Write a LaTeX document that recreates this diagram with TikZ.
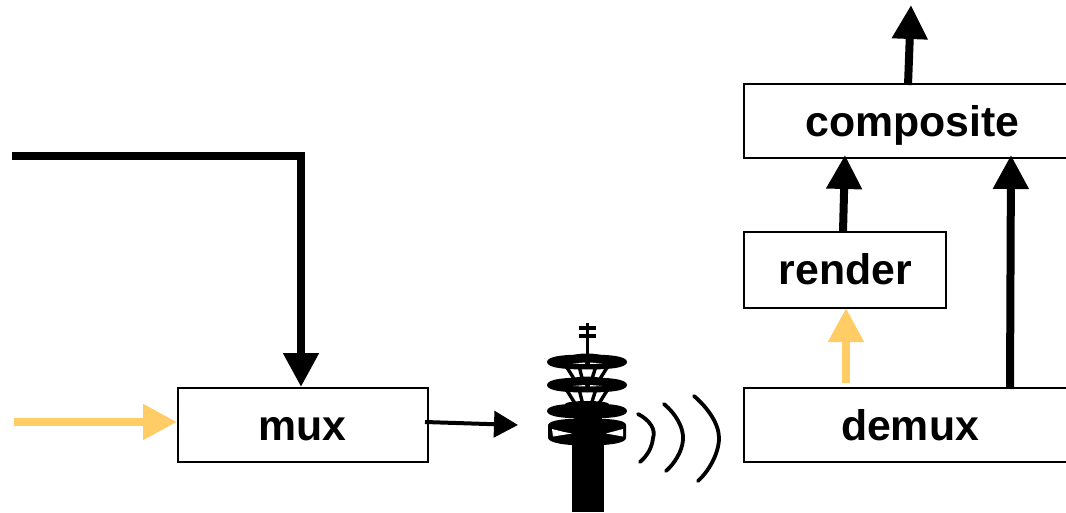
\documentclass[tikz,border=0pt]{standalone}
\usepackage{fontspec}
\setmainfont{Liberation Sans}
\usetikzlibrary{arrows.meta}
\definecolor{sig}{RGB}{255,204,102}
\tikzset{
  blockbox/.style={draw=black,line width=2pt,fill=white,rectangle,inner sep=0pt,text height=31pt,text depth=0pt,font=\fontsize{42.8pt}{46pt}\selectfont\bfseries,text=black},
  flow/.style={line width=8pt,-{Triangle[width=34pt,length=34pt]}},
  thinflow/.style={line width=4pt,-{Triangle[width=26pt,length=24pt]}},
  wave/.style={line width=3.8pt,line cap=round},
  towerline/.style={line width=3.4pt},
}
\newcommand{\towerdisc}[1]{\fill (547,#1) .. controls (547,#1-6) and (565,#1-7.5) .. (587,#1-7.5) .. controls (609,#1-7.5) and (627,#1-6) .. (627,#1) .. controls (627,#1+6) and (609,#1+7.5) .. (587,#1+7.5) .. controls (565,#1+7.5) and (547,#1+6) .. (547,#1) -- cycle;}
\begin{document}
\begin{tikzpicture}[x=1pt,y=-1pt]
\useasboundingbox (0,0) rectangle (1066,513);
\node[blockbox,minimum width=250pt,minimum height=74pt] (mux) at (303,425) {\hspace*{-2pt}mux};
\node[blockbox,minimum width=336pt,minimum height=74pt] (demux) at (912,425) {\hspace*{-4pt}demux};
\node[blockbox,text height=29pt,minimum width=202pt,minimum height=76pt] (render) at (845,270) {\hspace*{1pt}render};
\node[blockbox,minimum width=336pt,minimum height=74pt] (composite) at (912,121) {\hspace*{1pt}composite};
\coordinate (topout) at (911,5);
\coordinate (leftin) at (12,156);
\coordinate (corner) at (301,156);
\coordinate (sigin) at (14,422);
\coordinate (tower) at (518,425);
% connectors
\draw[flow] (leftin) -- (corner) -- ([xshift=-2pt,yshift=0pt]mux.north);
\draw[flow,draw=sig] (sigin) -- ([yshift=3pt,xshift=0pt]mux.west);
\draw[thinflow] ([yshift=3pt,xshift=-4pt]mux.east) -- (tower);
\draw[flow,draw=sig] ([xshift=1pt,yshift=4pt]render.south |- demux.north) -- ([xshift=1pt,yshift=1pt]render.south);
\draw[flow] ([xshift=-2pt,yshift=-1pt]render.north) -- ([yshift=4pt]render.north |- composite.south);
\draw[flow] ([xshift=98pt,yshift=-2pt]demux.north) -- ([xshift=99pt,yshift=4pt]composite.south);
\draw[flow] ([xshift=-4pt,yshift=-2pt]composite.north) -- (topout);
% tower
\fill (572,443) rectangle (603.5,512);
\fill (574,408) rectangle (602,445);
\draw[line width=3.6pt] (587.5,323) -- (587.5,362);
\draw[line width=3.2pt] (578.5,328) -- (595.5,328) (578.5,336) -- (595.5,336);
\foreach \xa/\xb in {566/576,579/583,596/591,608/598}{
  \draw[towerline] (\xa,366) -- (\xb,382);
  \draw[towerline] (\xa,389) -- (\xb,405);
}
\towerdisc{362}
\towerdisc{385}
\fill (587,356) ellipse [x radius=14,y radius=2.5];
\fill (587,379) ellipse [x radius=14,y radius=2.5];
\fill (587,404) ellipse [x radius=22,y radius=3];
\towerdisc{411}
\fill (548,425) .. controls (549,420) and (565,418.5) .. (587,418.5) .. controls (610,418.5) and (626,420) .. (626,425) -- (626,438) .. controls (626,443) and (610,445.5) .. (587,445.5) .. controls (565,445.5) and (549,443) .. (548,438) -- cycle;
\fill[white] (552,429) -- (564,432) -- (572,433.5) -- (553,436.5) -- cycle;
\fill[white] (606,433.5) -- (623,429) -- (623,436.5) -- cycle;
\fill[white] (573,363.5) -- (585,362.5) -- (585,364) -- cycle;
\fill[white] (590,362.5) -- (602,363.5) -- (590,364) -- cycle;
\fill[white] (573,386) -- (585,385) -- (585,386.5) -- cycle;
\fill[white] (590,385) -- (602,386) -- (590,386.5) -- cycle;
% waves
\draw[wave] (638,414) .. controls (650,420) and (656,430) .. (653,438) .. controls (652,448) and (647,456) .. (640,462);
\draw[wave] (664,404) .. controls (676,414) and (684,428) .. (683,440) .. controls (682,452) and (674,464) .. (666,471);
\draw[wave] (694,396) .. controls (708,408) and (719,424) .. (719,438) .. controls (719,454) and (708,472) .. (698,481);
\end{tikzpicture}
\end{document}
